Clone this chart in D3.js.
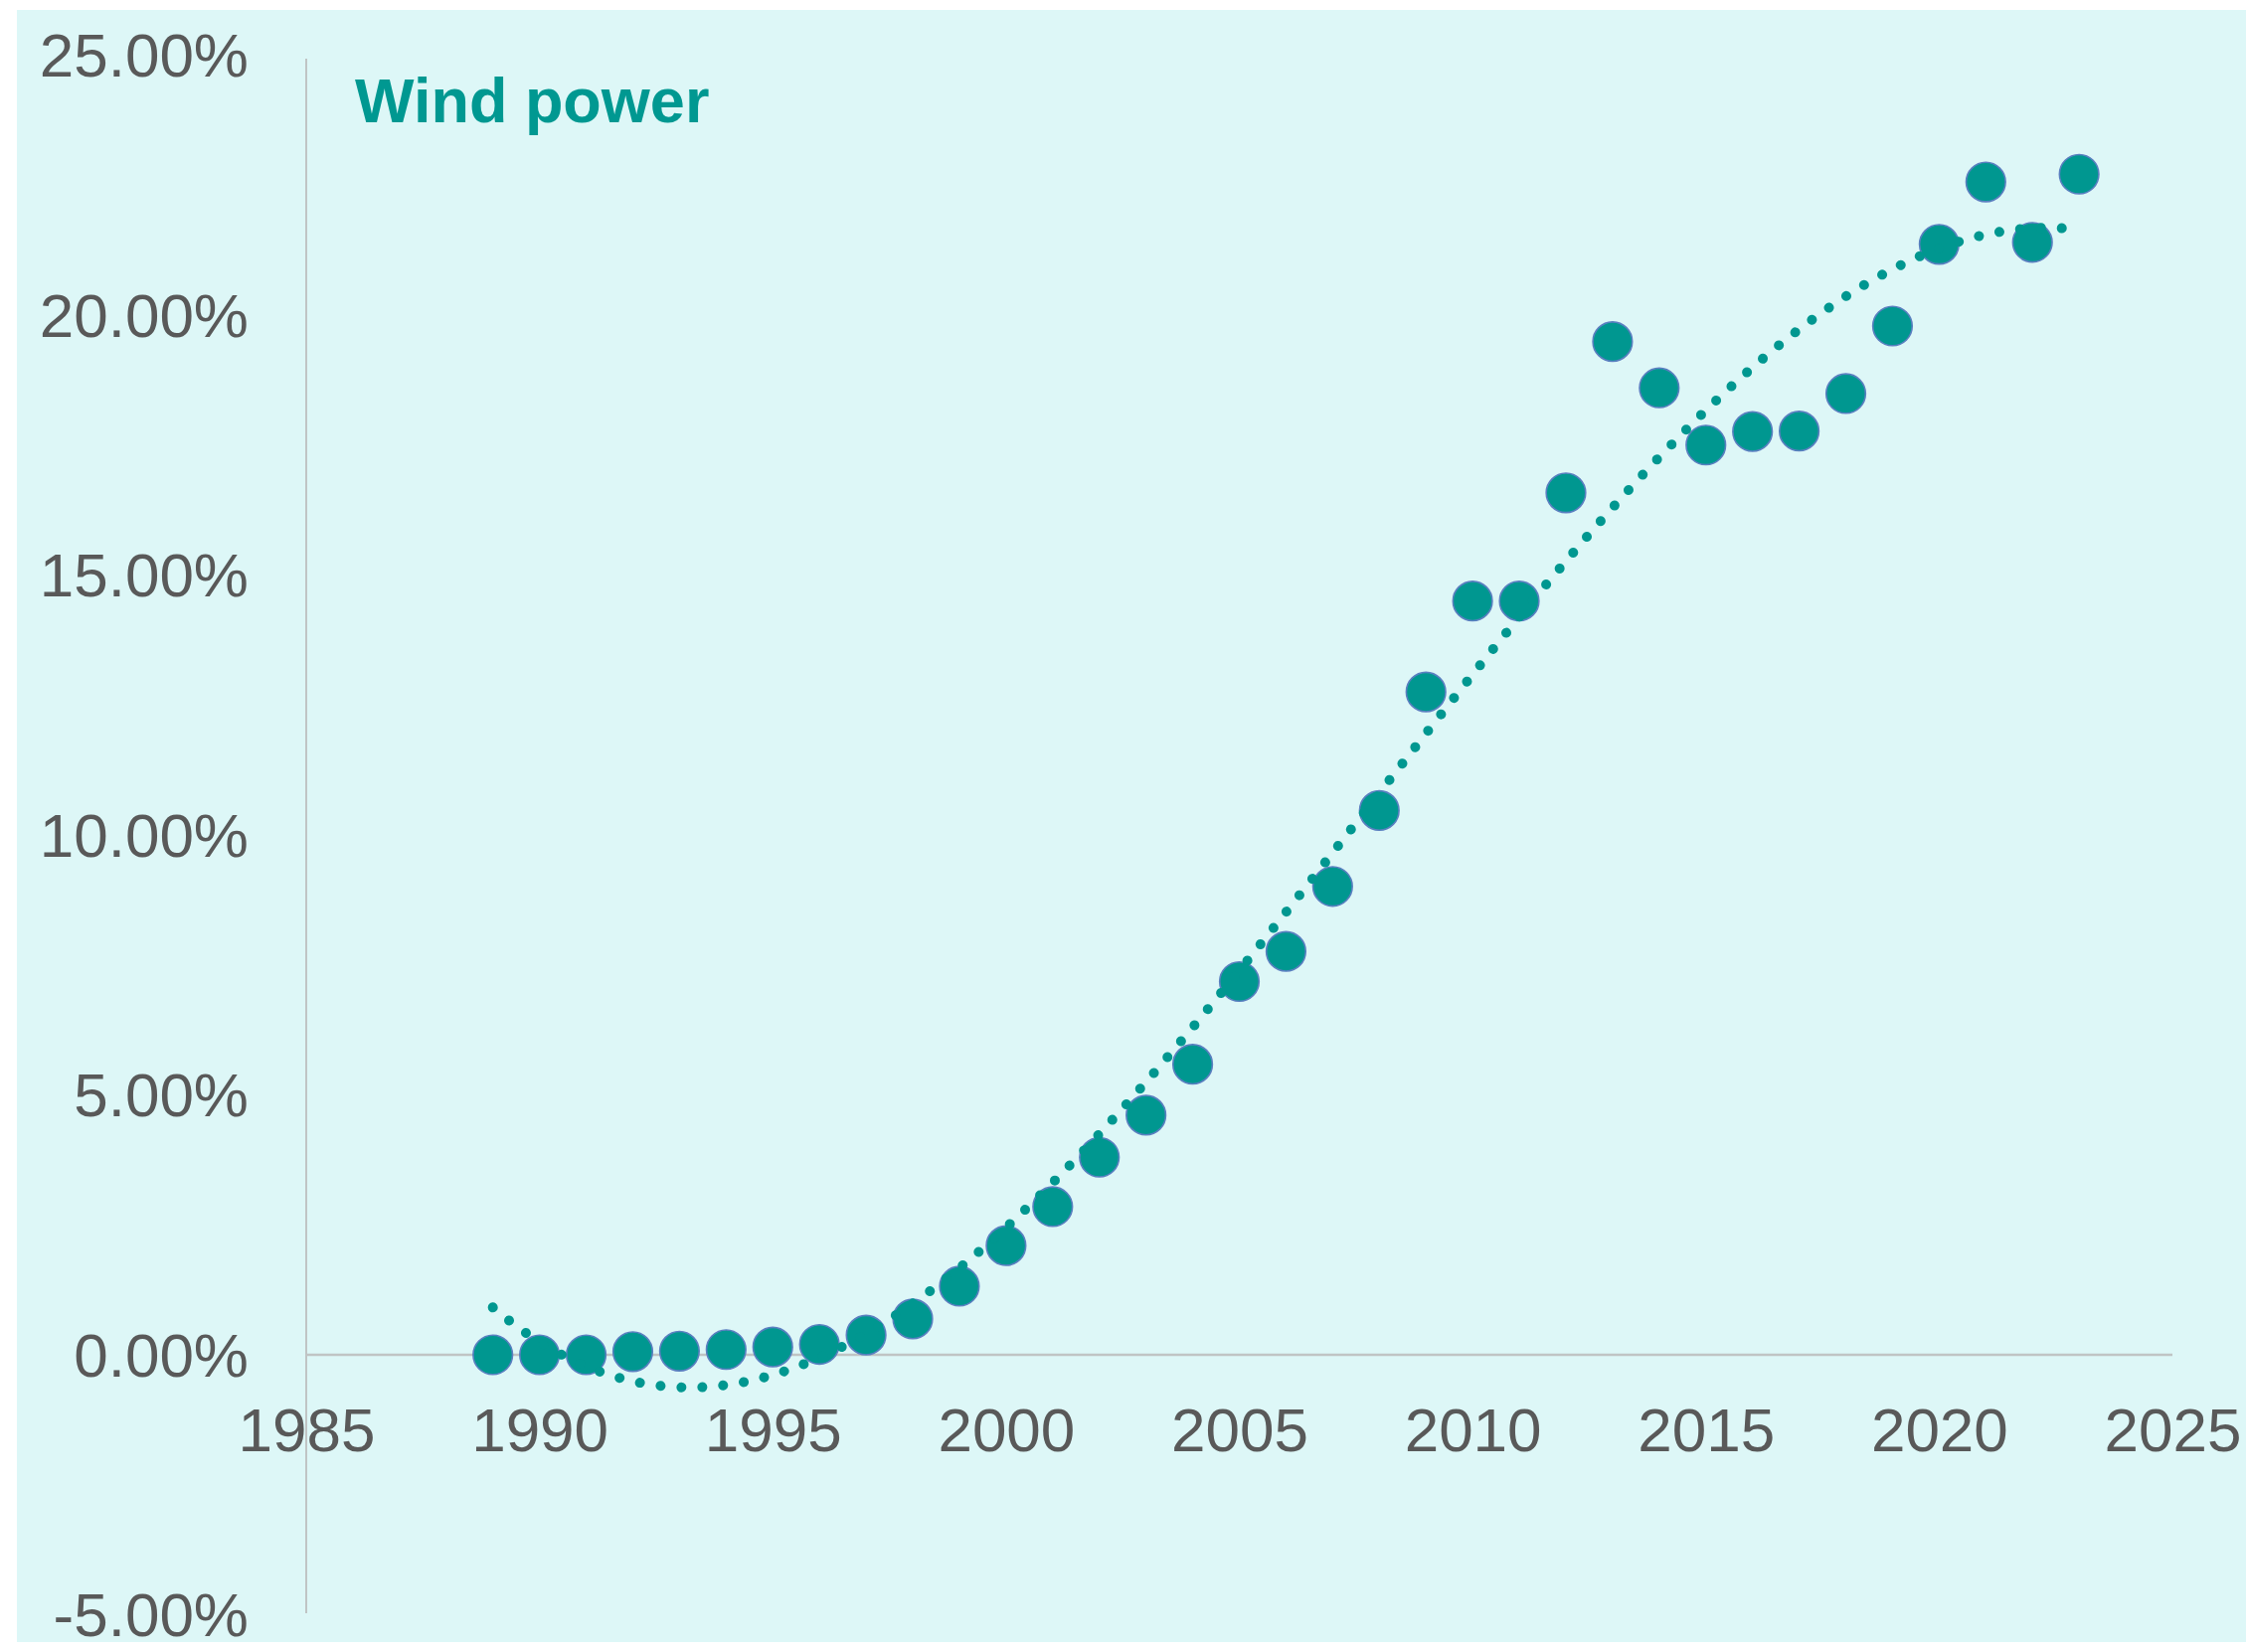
<!DOCTYPE html>
<html>
<head>
<meta charset="utf-8">
<script src="https://cdn.jsdelivr.net/npm/d3@7"></script>
<style>
  html, body { margin: 0; padding: 0; background: #ffffff; }
  svg { display: block; }
  text { font-family: "Liberation Sans", Arial, sans-serif; }
</style>
</head>
<body>
<svg id="chart" width="2259" height="1662"></svg>
<script>
// Share of electricity from wind power, by year (%)
const years = [1989, 1990, 1991, 1992, 1993, 1994, 1995, 1996, 1997, 1998,
               1999, 2000, 2001, 2002, 2003, 2004, 2005, 2006, 2007, 2008,
               2009, 2010, 2011, 2012, 2013, 2014, 2015, 2016, 2017, 2018,
               2019, 2020, 2021, 2022, 2023];
const windShare = [0.00, 0.00, 0.00, 0.06, 0.07, 0.10, 0.15, 0.20, 0.38, 0.69,
                   1.32, 2.10, 2.85, 3.80, 4.61, 5.59, 7.18, 7.76, 9.01, 10.47,
                   12.75, 14.50, 14.50, 16.58, 19.49, 18.60, 17.50, 17.76, 17.77, 18.49,
                   19.79, 21.36, 22.56, 21.40, 22.71];

const xTicks = [1985, 1990, 1995, 2000, 2005, 2010, 2015, 2020, 2025];
const yTicks = [-5, 0, 5, 10, 15, 20, 25];
const title = "Wind power";
const trendOrder = 3;

const svg = d3.select("#chart");

// panel background
svg.append("rect")
  .attr("x", 17).attr("y", 10)
  .attr("width", 2259 - 17).attr("height", 1652 - 10)
  .attr("fill", "#ddf7f7");

const x = d3.scaleLinear().domain([1985, 2025]).range([308, 2185]);
const y = d3.scaleLinear().domain([-5, 25]).range([1624.5, 55.5]);

// vertical axis line
svg.append("line")
  .attr("x1", x(1985)).attr("x2", x(1985))
  .attr("y1", 59).attr("y2", 1623)
  .attr("stroke", "#c0c4c4").attr("stroke-width", 2);

// horizontal axis at zero
svg.append("line")
  .attr("x1", x(1985)).attr("x2", x(2025))
  .attr("y1", y(0)).attr("y2", y(0))
  .attr("stroke", "#c0c4c4").attr("stroke-width", 2.5);

// y tick labels (plain hyphen for negatives)
const pct = d => (d < 0 ? "-" : "") + Math.abs(d).toFixed(2) + "%";
const yAxis = d3.axisLeft(y).tickValues(yTicks)
  .tickFormat(pct)
  .tickSize(0).tickPadding(0);
const gy = svg.append("g").attr("transform", "translate(250,0)").call(yAxis);
gy.select(".domain").remove();
gy.selectAll("text")
  .attr("font-family", "'Liberation Sans', Arial, sans-serif")
  .attr("font-size", 62).attr("fill", "#595959")
  .attr("dy", "0.34em");

// x tick labels
const xAxis = d3.axisBottom(x).tickValues(xTicks)
  .tickFormat(d3.format("d")).tickSize(0).tickPadding(0);
const gx = svg.append("g").attr("transform", `translate(0,${1460})`).call(xAxis);
gx.select(".domain").remove();
gx.selectAll("text")
  .attr("font-family", "'Liberation Sans', Arial, sans-serif")
  .attr("font-size", 62).attr("fill", "#595959")
  .attr("dy", 0);

// data points
const pts = years.map((yr, i) => ({ yr, v: windShare[i] }));
svg.append("g").selectAll("circle")
  .data(pts).join("circle")
  .attr("cx", d => x(d.yr)).attr("cy", d => y(d.v))
  .attr("r", 19.8)
  .attr("fill", "#009790")
  .attr("stroke", "#5a7fc0").attr("stroke-width", 1.6);

// polynomial least-squares trend line
function polyFit(xs, ys, order) {
  const n = order + 1;
  const A = Array.from({ length: n }, () => new Array(n + 1).fill(0));
  xs.forEach((xv, k) => {
    for (let r = 0; r < n; r++) {
      for (let c = 0; c < n; c++) A[r][c] += Math.pow(xv, r + c);
      A[r][n] += ys[k] * Math.pow(xv, r);
    }
  });
  for (let i = 0; i < n; i++) {
    let p = i;
    for (let r = i + 1; r < n; r++) if (Math.abs(A[r][i]) > Math.abs(A[p][i])) p = r;
    [A[i], A[p]] = [A[p], A[i]];
    for (let r = 0; r < n; r++) {
      if (r === i) continue;
      const f = A[r][i] / A[i][i];
      for (let c = i; c <= n; c++) A[r][c] -= f * A[i][c];
    }
  }
  return A.map((row, i) => row[n] / row[i]);
}
const x0 = 2006;
const coef = polyFit(years.map(v => v - x0), windShare, trendOrder);
const trendAt = t => coef.reduce((s, c, i) => s + c * Math.pow(t - x0, i), 0);
const trendYears = d3.range(years[0], years[years.length - 1] + 0.001, 0.1);

svg.append("path")
  .datum(trendYears)
  .attr("d", d3.line().x(t => x(t)).y(t => y(trendAt(t))))
  .attr("fill", "none")
  .attr("stroke", "#009790")
  .attr("stroke-width", 10)
  .attr("stroke-linecap", "round")
  .attr("stroke-dasharray", "0.01 21");

// series title
svg.append("text")
  .attr("x", 357).attr("y", 123)
  .attr("font-size", 63).attr("font-weight", "bold")
  .attr("fill", "#009891")
  .text(title);
</script>
</body>
</html>
